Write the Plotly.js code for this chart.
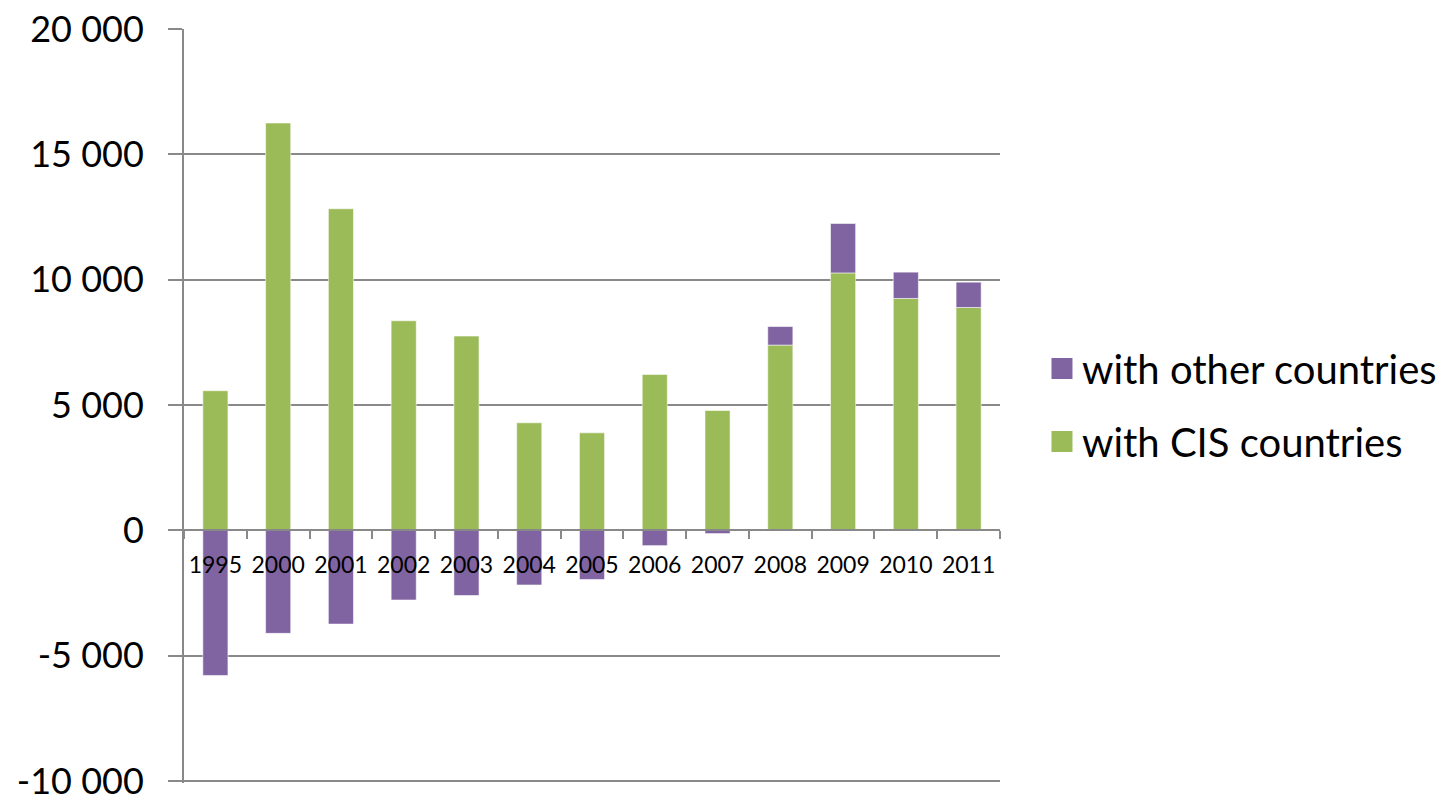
<!DOCTYPE html>
<html>
<head>
<meta charset="utf-8">
<script src="https://cdn.plot.ly/plotly-3.0.1.min.js"></script>
<style>
  html, body { margin: 0; padding: 0; background: #ffffff; }
  #chart { width: 1439px; height: 798px; }
</style>
</head>
<body>
<div id="chart"></div>
<script>
const years = ['1995', '2000', '2001', '2002', '2003', '2004', '2005', '2006', '2007', '2008', '2009', '2010', '2011'];
const withCIS = [5570, 16250, 12830, 8360, 7750, 4290, 3890, 6220, 4780, 7390, 10270, 9250, 8890];
const withOther = [-5790, -4110, -3740, -2780, -2600, -2180, -1960, -610, -130, 740, 1970, 1050, 1010];
const seriesNames = ['with CIS countries', 'with other countries'];
const yTickVals = [-10000, -5000, 0, 5000, 10000, 15000, 20000];
const yTickText = ['-10 000', '-5 000', '0', '5 000', '10 000', '15 000', '20 000'];

const FONT = 'Lato, "Open Sans", sans-serif';
const GRAY = '#898989';
const GREEN = '#9BBB59';
const PURPLE = '#8064A2';
const Y_RANGE = [-10080, 20000];

const traces = [
  {
    type: 'bar', name: seriesNames[0], x: years, y: withCIS,
    showlegend: false,
    marker: { color: GREEN, line: { color: 'rgba(255,255,255,0.55)', width: 1 } }
  },
  {
    type: 'bar', name: seriesNames[1], x: years, y: withOther,
    showlegend: false,
    marker: { color: PURPLE, line: { color: 'rgba(255,255,255,0.55)', width: 1 } }
  },
  // legend keys (no data drawn)
  {
    type: 'scatter', mode: 'markers', name: seriesNames[1], x: [null], y: [null],
    legendgroup: 'other', legendrank: 1,
    marker: { symbol: 'square', size: 24, color: PURPLE, line: { color: PURPLE, width: 8 } }
  },
  {
    type: 'scatter', mode: 'markers', name: seriesNames[0], x: [null], y: [null],
    legendgroup: 'cis', legendrank: 2,
    marker: { symbol: 'square', size: 24, color: GREEN, line: { color: GREEN, width: 8 } }
  }
];

const layout = {
  width: 1439, height: 798,
  margin: { l: 184, r: 439, t: 29, b: 15, pad: 0 },
  paper_bgcolor: '#ffffff', plot_bgcolor: '#ffffff',
  barmode: 'relative',
  bargap: 0.6,
  font: { family: FONT, color: '#000000' },
  xaxis: {
    type: 'category',
    anchor: 'free', position: -Y_RANGE[0] / (Y_RANGE[1] - Y_RANGE[0]),
    showline: true, linecolor: GRAY, linewidth: 2,
    ticks: 'outside', tickson: 'boundaries', ticklen: 8, tickwidth: 2, tickcolor: GRAY,
    showgrid: false, zeroline: false,
    tickangle: 0,
    tickfont: { family: FONT, size: 23, color: '#000000' },
    ticklabelstandoff: 14
  },
  yaxis: {
    range: Y_RANGE,
    tickmode: 'array', tickvals: yTickVals, ticktext: yTickText,
    showline: true, linecolor: GRAY, linewidth: 2,
    ticks: 'outside', ticklen: 14, tickwidth: 2, tickcolor: GRAY,
    showgrid: true, gridcolor: GRAY, gridwidth: 2,
    zeroline: false,
    ticklabeloverflow: 'allow',
    tickfont: { family: FONT, size: 36, color: '#000000' },
    ticklabelstandoff: 17
  },
  showlegend: true,
  legend: {
    xref: 'container', yref: 'container',
    x: 0.7241, xanchor: 'left', y: 0.4925, yanchor: 'middle',
    traceorder: 'grouped', tracegroupgap: 18,
    itemsizing: 'trace',
    font: { family: FONT, size: 40, color: '#000000' },
    bgcolor: 'rgba(0,0,0,0)'
  }
};

Plotly.newPlot('chart', traces, layout, { displayModeBar: false, staticPlot: true });
</script>
</body>
</html>
